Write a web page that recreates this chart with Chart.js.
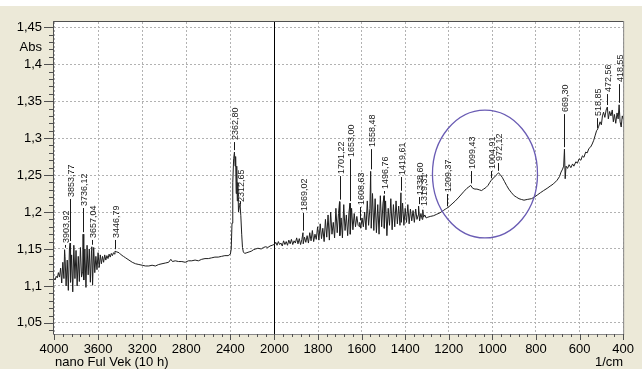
<!DOCTYPE html>
<html>
<head>
<meta charset="utf-8">
<script src="https://cdn.jsdelivr.net/npm/chart.js@4/dist/chart.umd.min.js"></script>
<style>
  html, body { margin: 0; padding: 0; background: #ECE9D8; }
  canvas { display: block; }
</style>
</head>
<body>
<canvas id="c" width="642" height="369"></canvas>
<script>
const FONT = '"Liberation Sans", Arial, sans-serif';

// Axis tick values
const wnTicks = [4000, 3600, 3200, 2800, 2400, 2000, 1800, 1600, 1400, 1200, 1000, 800, 600, 400];
const absTicks = [1.05, 1.1, 1.15, 1.2, 1.25, 1.3, 1.35, 1.4, 1.45];

// O–H stretch region, sampled every 10 cm-1 from 4000 cm-1
const ohStart = 4000, ohStep = 10;
const ohAbs = [
  1.110, 1.108, 1.113, 1.111, 1.118, 1.112, 1.124, 1.104, 1.132, 1.110,
  1.140, 1.100, 1.135, 1.094, 1.150, 1.105, 1.142, 1.092, 1.155, 1.110,
  1.148, 1.100, 1.140, 1.106, 1.152, 1.112, 1.120, 1.108, 1.150, 1.098,
  1.155, 1.115, 1.150, 1.105, 1.148, 1.101, 1.152, 1.118, 1.140, 1.122,
  1.145, 1.125, 1.142, 1.130, 1.140, 1.132, 1.142, 1.135, 1.141, 1.137,
  1.143, 1.139, 1.144, 1.141, 1.145, 1.143
];

// Quiet stretch between the O–H and CO2 bands: [wavenumber, absorbance]
const midBand = [
  [3430, 1.146], [3410, 1.145], [3390, 1.142], [3370, 1.140], [3350, 1.138],
  [3320, 1.135], [3290, 1.132], [3260, 1.130], [3230, 1.129], [3200, 1.128],
  [3170, 1.127], [3140, 1.127], [3110, 1.128], [3080, 1.127], [3050, 1.129],
  [3020, 1.130], [2990, 1.131], [2960, 1.132], [2940, 1.136], [2925, 1.133],
  [2900, 1.134], [2870, 1.133], [2840, 1.133], [2810, 1.132], [2780, 1.134],
  [2750, 1.134], [2720, 1.135], [2690, 1.134], [2660, 1.136], [2630, 1.137],
  [2600, 1.137], [2570, 1.138], [2540, 1.139], [2510, 1.139], [2480, 1.140],
  [2450, 1.141], [2420, 1.141], [2400, 1.143]
];

// CO2 doublet and the flat run up to 2000 cm-1
const co2Band = [
  [2392, 1.150], [2385, 1.185], [2378, 1.240], [2370, 1.272], [2357, 1.262],
  [2352, 1.275], [2347, 1.225], [2342, 1.262], [2337, 1.215], [2332, 1.240],
  [2326, 1.200], [2318, 1.208], [2305, 1.195], [2297, 1.170], [2290, 1.152],
  [2282, 1.146], [2270, 1.144], [2250, 1.145], [2230, 1.146], [2210, 1.147],
  [2190, 1.149], [2170, 1.150], [2150, 1.151], [2120, 1.150], [2100, 1.152],
  [2080, 1.153], [2060, 1.152], [2040, 1.154], [2020, 1.155], [2005, 1.156]
];

// Noisy 2000–1300 cm-1 region, sampled every 6 cm-1 from 2000 cm-1
const fpStart = 2000, fpStep = 6;
const fpAbs = [
  1.156, 1.159, 1.155, 1.160, 1.156, 1.158, 1.154, 1.161, 1.156, 1.160,
  1.155, 1.162, 1.157, 1.163, 1.156, 1.161, 1.158, 1.165, 1.157, 1.164,
  1.156, 1.163, 1.157, 1.166, 1.159, 1.168, 1.158, 1.172, 1.161, 1.175,
  1.160, 1.170, 1.163, 1.180, 1.162, 1.184, 1.164, 1.178, 1.160, 1.190,
  1.166, 1.196, 1.162, 1.200, 1.170, 1.186, 1.165, 1.205, 1.172, 1.198,
  1.168, 1.192, 1.165, 1.210, 1.175, 1.196, 1.168, 1.200, 1.170, 1.205,
  1.176, 1.198, 1.180, 1.194, 1.182, 1.180, 1.178, 1.192, 1.180, 1.200,
  1.176, 1.215, 1.182, 1.205, 1.178, 1.225, 1.175, 1.218, 1.172, 1.210,
  1.170, 1.222, 1.180, 1.212, 1.178, 1.215, 1.168, 1.205, 1.182, 1.218,
  1.176, 1.210, 1.180, 1.215, 1.184, 1.208, 1.182, 1.186, 1.212, 1.182,
  1.205, 1.186, 1.210, 1.184, 1.204, 1.188, 1.202, 1.186, 1.204, 1.190,
  1.196, 1.188, 1.198, 1.190, 1.193, 1.196, 1.192
];

// Fingerprint region down to 400 cm-1
const lowBand = [
  [1296, 1.193], [1285, 1.194], [1270, 1.195], [1255, 1.197], [1240, 1.199],
  [1225, 1.202], [1215, 1.204], [1200, 1.207], [1185, 1.211], [1170, 1.215],
  [1157, 1.219], [1145, 1.223], [1130, 1.228], [1117, 1.232], [1108, 1.234],
  [1090, 1.232], [1080, 1.231], [1071, 1.231], [1060, 1.230], [1050, 1.229],
  [1040, 1.231], [1030, 1.233], [1020, 1.236], [1012, 1.240], [995, 1.246],
  [985, 1.249], [978, 1.251], [965, 1.251], [955, 1.247], [944, 1.241],
  [935, 1.236], [925, 1.231], [912, 1.226], [900, 1.222], [889, 1.220],
  [878, 1.218], [867, 1.217], [855, 1.216], [840, 1.217], [821, 1.218],
  [808, 1.220], [794, 1.223], [780, 1.226], [765, 1.229], [749, 1.232],
  [735, 1.235], [720, 1.238], [703, 1.243], [692, 1.248], [685, 1.254],
  [678, 1.258], [673, 1.262], [666, 1.245], [662, 1.262], [655, 1.259],
  [648, 1.264], [640, 1.260], [632, 1.265], [626, 1.262], [617, 1.268],
  [610, 1.266], [602, 1.272], [594, 1.270], [587, 1.276], [580, 1.274],
  [572, 1.281], [565, 1.280], [557, 1.286], [549, 1.288], [542, 1.292],
  [535, 1.297], [528, 1.304], [522, 1.310], [512, 1.316], [506, 1.322],
  [500, 1.318], [495, 1.330], [490, 1.335], [484, 1.328], [478, 1.338],
  [468, 1.326], [462, 1.336], [456, 1.330], [450, 1.338], [445, 1.322],
  [440, 1.332], [434, 1.320], [428, 1.334], [423, 1.326], [414, 1.322],
  [409, 1.315], [404, 1.330], [400, 1.326]
];

// Picked peaks: position, absorbance at the peak, and height where the label starts
const peakWn = [3903.92, 3853.77, 3736.12, 3657.04, 3446.79, 2362.80, 2312.65, 1869.02,
  1701.22, 1653.00, 1608.63, 1558.48, 1496.76, 1419.61, 1338.60, 1319.31,
  1209.37, 1099.43, 1004.91, 972.12, 669.30, 518.85, 472.56, 418.55];
const peakAbs = [1.149, 1.158, 1.170, 1.153, 1.147, 1.281, 1.212, 1.172,
  1.214, 1.212, 1.186, 1.255, 1.222, 1.226, 1.208, 1.203,
  1.205, 1.236, 1.243, 1.253, 1.285, 1.311, 1.342, 1.345];
const peakLabelAbs = [1.1554, 1.2176, 1.2054, 1.1622, 1.1622, 1.2946, 1.2108, 1.1986,
  1.2486, 1.2716, 1.2068, 1.2851, 1.2284, 1.2473, 1.2203, 1.2054,
  1.2243, 1.2554, 1.2554, 1.2662, 1.3324, 1.3270, 1.3595, 1.3730];

// Highlight ring around the 1100–970 cm-1 bands
const ringWn = 1034, ringAbs = 1.2514, ringHalfWn = 241, ringHalfAbs = 0.0865;

// The axis is compressed 2:1 above 2000 cm-1; each grid division is one unit,
// the compressed divisions being a touch wider.
const hiDiv = 1.0114;
const breakAt = 5 * hiDiv;
function toAxis(wn) {
  return wn >= 2000 ? (4000 - wn) / 400 * hiDiv : breakAt + (2000 - wn) / 200;
}
function fromAxis(u) {
  return u <= breakAt ? 4000 - 400 * u / hiDiv : 2000 - 200 * (u - breakAt);
}
const comma = s => s.replace('.', ',');

const pairs = [];
ohAbs.forEach((a, i) => pairs.push([ohStart - i * ohStep, a]));
midBand.forEach(p => pairs.push(p));
co2Band.forEach(p => pairs.push(p));
fpAbs.forEach((a, i) => pairs.push([fpStart - i * fpStep, a]));
lowBand.forEach(p => pairs.push(p));
peakWn.forEach((w, i) => pairs.push([w, peakAbs[i]]));
pairs.sort((p, q) => q[0] - p[0]);
const points = pairs.map(p => ({ x: toAxis(p[0]), y: p[1] }));

const decor = {
  id: 'decor',
  beforeDraw(chart) {
    const { ctx, chartArea: a, width, height } = chart;
    ctx.save();
    ctx.fillStyle = '#ECE9D8';
    ctx.fillRect(0, 0, width, height);
    ctx.fillStyle = '#FFFFFF';
    ctx.fillRect(0, 0, width, 6);
    ctx.fillRect(a.left, a.top, a.right - a.left, a.bottom - a.top);
    ctx.restore();
  },
  beforeDatasetsDraw(chart) {
    const { ctx, chartArea: a, scales: { x } } = chart;
    // solid divider where the axis scale changes
    const bx = Math.round(x.getPixelForValue(toAxis(2000))) + 0.5;
    ctx.save();
    ctx.strokeStyle = '#000';
    ctx.lineWidth = 1;
    ctx.beginPath();
    ctx.moveTo(bx, a.top);
    ctx.lineTo(bx, a.bottom);
    ctx.stroke();
    ctx.restore();
  },
  afterDatasetsDraw(chart) {
    const { ctx, chartArea: a, scales: { x, y } } = chart;
    ctx.save();

    // frame
    ctx.lineWidth = 1;
    ctx.strokeStyle = '#8a8a8a';
    ctx.strokeRect(a.left - 0.5, a.top - 0.5, a.right - a.left + 1, a.bottom - a.top + 1);
    ctx.strokeStyle = '#505050';
    ctx.beginPath();
    ctx.moveTo(a.left - 0.5, a.bottom);
    ctx.lineTo(a.left - 0.5, a.top - 0.5);
    ctx.lineTo(a.right, a.top - 0.5);
    ctx.stroke();

    // major and minor tick marks: 80 cm-1 steps above 2000, 40 cm-1 below
    ctx.strokeStyle = '#505050';
    ctx.beginPath();
    const xTick = (wn, len) => {
      const px = Math.round(x.getPixelForValue(toAxis(wn))) + 0.5;
      ctx.moveTo(px, a.bottom);
      ctx.lineTo(px, a.bottom + len);
    };
    for (let wn = 4000; wn > 2000; wn -= 80) xTick(wn, (4000 - wn) % 400 === 0 ? 6 : 3);
    for (let wn = 2000; wn >= 400; wn -= 40) xTick(wn, (2000 - wn) % 200 === 0 ? 6 : 3);
    for (let k = 104; k <= 145; k++) {
      const py = Math.round(y.getPixelForValue(k / 100)) + 0.5;
      const len = k % 5 === 0 ? 10 : 5;
      ctx.moveTo(a.left - len, py);
      ctx.lineTo(a.left, py);
    }
    ctx.stroke();

    // peak labels with leader lines
    ctx.font = '9px ' + FONT;
    ctx.fillStyle = '#1a1a1a';
    ctx.strokeStyle = '#1a1a1a';
    peakWn.forEach((wn, i) => {
      const px = Math.round(x.getPixelForValue(toAxis(wn))) + 0.5;
      const py = y.getPixelForValue(peakAbs[i]) - 2;
      const ty = y.getPixelForValue(peakLabelAbs[i]);
      ctx.beginPath();
      ctx.moveTo(px, py);
      ctx.lineTo(px, ty);
      ctx.stroke();
      ctx.save();
      ctx.translate(px + 1, ty - 2);
      ctx.rotate(-Math.PI / 2);
      ctx.textAlign = 'left';
      ctx.textBaseline = 'middle';
      ctx.fillText(comma(wn.toFixed(2)), 0, 0);
      ctx.restore();
    });

    // highlight ring
    const cx = x.getPixelForValue(toAxis(ringWn));
    const cy = y.getPixelForValue(ringAbs);
    const rx = Math.abs(x.getPixelForValue(toAxis(ringWn - ringHalfWn)) - cx);
    const ry = Math.abs(y.getPixelForValue(ringAbs + ringHalfAbs) - cy);
    ctx.beginPath();
    ctx.ellipse(cx, cy, rx, ry, 0, 0, Math.PI * 2);
    ctx.strokeStyle = '#6a5cb4';
    ctx.lineWidth = 1.3;
    ctx.stroke();

    // axis captions
    ctx.fillStyle = '#000';
    ctx.font = '13px ' + FONT;
    ctx.textBaseline = 'middle';
    ctx.textAlign = 'right';
    ctx.fillText('Abs', a.left - 12, a.top + 25);
    ctx.fillText('1/cm', a.right, a.bottom + 28);
    ctx.textAlign = 'left';
    ctx.fillText('nano Ful Vek (10 h)', a.left + 1, a.bottom + 28);
    ctx.restore();
  }
};

new Chart(document.getElementById('c'), {
  type: 'line',
  data: {
    datasets: [{
      data: points,
      borderColor: '#1e1e1e',
      borderWidth: 1,
      pointRadius: 0,
      tension: 0,
      fill: false
    }]
  },
  options: {
    responsive: false,
    animation: false,
    events: [],
    layout: { padding: { top: 22, right: 12, left: 0, bottom: 0 } },
    plugins: {
      legend: { display: false },
      tooltip: { enabled: false },
      title: { display: false }
    },
    scales: {
      x: {
        type: 'linear',
        min: 0,
        max: toAxis(400),
        afterBuildTicks: s => { s.ticks = wnTicks.map(w => ({ value: toAxis(w) })); },
        afterFit: s => { s.height = 35; },
        grid: {
          color: c => (c.tick && Math.abs(c.tick.value - breakAt) < 1e-9) ? 'rgba(0,0,0,0)' : '#b2b2b2',
          drawTicks: false,
          lineWidth: 1
        },
        border: { display: false, dash: [2, 2] },
        ticks: {
          autoSkip: false,
          maxRotation: 0,
          padding: 8,
          color: '#000',
          font: { family: FONT, size: 13 },
          callback: v => String(Math.round(fromAxis(v)))
        }
      },
      y: {
        min: 1.035,
        max: 1.457,
        afterBuildTicks: s => { s.ticks = absTicks.map(v => ({ value: v })); },
        afterFit: s => { s.width = 54; },
        grid: { color: '#b2b2b2', drawTicks: false, lineWidth: 1 },
        border: { display: false, dash: [2, 2] },
        ticks: {
          padding: 12,
          color: '#000',
          font: { family: FONT, size: 13 },
          callback: v => comma(String(parseFloat(Number(v).toFixed(2))))
        }
      }
    }
  },
  plugins: [decor]
});
</script>
</body>
</html>
